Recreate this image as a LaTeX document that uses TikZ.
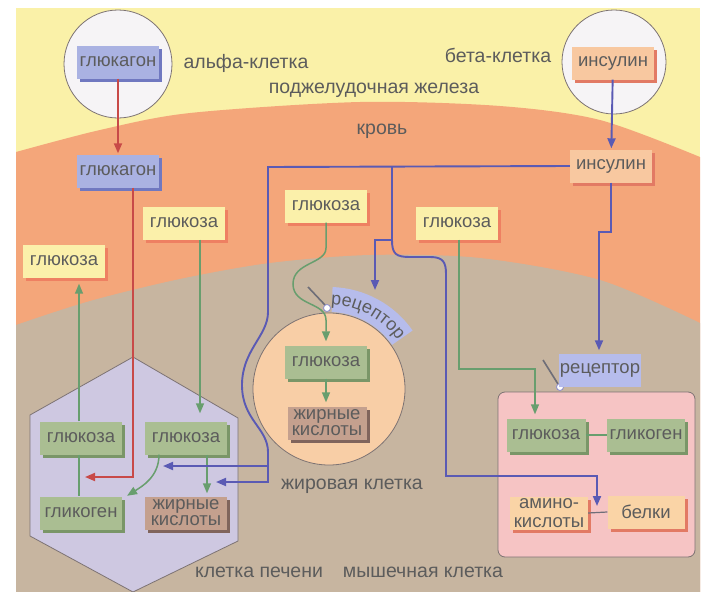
\documentclass[tikz,border=0pt]{standalone}
\usepackage{fontspec}
\setmainfont{Liberation Sans}
\usetikzlibrary{arrows.meta,shadows,decorations.text,calc}

\definecolor{bgY}{RGB}{250,241,168}
\definecolor{bgO}{RGB}{244,166,122}
\definecolor{bgB}{RGB}{199,181,160}
\definecolor{cellW}{RGB}{246,244,246}
\definecolor{hexF}{RGB}{206,200,225}
\definecolor{fatF}{RGB}{248,206,166}
\definecolor{musF}{RGB}{246,196,196}
\definecolor{cellL}{RGB}{125,115,115}
\definecolor{txt}{RGB}{92,92,92}
\definecolor{boxY}{RGB}{251,240,170}
\definecolor{shY}{RGB}{238,128,98}
\definecolor{boxG}{RGB}{170,190,146}
\definecolor{shG}{RGB}{122,150,104}
\definecolor{boxB}{RGB}{170,178,226}
\definecolor{shB}{RGB}{112,120,192}
\definecolor{boxI}{RGB}{248,200,160}
\definecolor{shI}{RGB}{226,122,100}
\definecolor{boxF}{RGB}{196,160,142}
\definecolor{shF}{RGB}{128,100,92}
\definecolor{boxA}{RGB}{250,212,166}
\definecolor{recF}{RGB}{182,188,236}
\definecolor{lnR}{RGB}{200,74,72}
\definecolor{lnG}{RGB}{104,158,110}
\definecolor{lnB}{RGB}{90,90,180}
\definecolor{lnD}{RGB}{110,110,120}

\newcommand\lbl{\fontsize{19.5}{19.5}\selectfont}
\newcommand\bxf{\fontsize{18.5}{18.5}\selectfont}
\newcommand\twf{\fontsize{18.5}{16}\selectfont}
\newcommand\rcf{\fontsize{18}{18}\selectfont}

\tikzset{
  box/.style={minimum width=82pt, minimum height=33pt, inner sep=1pt,
    text=txt, font=\bxf, align=center},
  ybox/.style={box, fill=boxY, drop shadow={shadow xshift=3pt, shadow yshift=-3pt, fill=shY, opacity=1}},
  gbox/.style={box, fill=boxG, drop shadow={shadow xshift=3pt, shadow yshift=-3pt, fill=shG, opacity=1}},
  bbox/.style={box, fill=boxB, drop shadow={shadow xshift=3pt, shadow yshift=-3pt, fill=shB, opacity=1}},
  ibox/.style={box, fill=boxI, drop shadow={shadow xshift=3pt, shadow yshift=-3pt, fill=shI, opacity=1}},
  fbox/.style={box, font=\twf, fill=boxF, drop shadow={shadow xshift=3pt, shadow yshift=-3pt, fill=shF, opacity=1}},
  abox/.style={box, fill=boxA, drop shadow={shadow xshift=3pt, shadow yshift=-3pt, fill=shI, opacity=1}},
  rbox/.style={box, fill=recF},
  lab/.style={text=txt, font=\lbl, inner sep=0pt},
  cellline/.style={draw=cellL, line width=0.8pt},
  tip/.style={-{Triangle[length=10pt,width=8pt]}},
  redln/.style={draw=lnR, line width=1.8pt},
  grnln/.style={draw=lnG, line width=1.5pt},
  bluln/.style={draw=lnB, line width=1.9pt},
  stick/.style={draw=lnD, line width=1.6pt},
  ball/.style={draw=lnB!70, fill=white, line width=0.8pt}
}

\begin{document}
\begin{tikzpicture}[x=1pt, y=-1pt]
\useasboundingbox (0,0) rectangle (705,592);
\fill[white] (0,0) rectangle (705,592);

% pancreas, blood and tissue zones
\fill[bgY] (16,8) rectangle (700,592);
\fill[bgO] plot[smooth] coordinates {(16,152) (100,130) (190,113) (360,102) (500,106) (600,120) (700,157)}
  -- (700,592) -- (16,592) -- cycle;
\fill[bgB] plot[smooth] coordinates {(16,325) (90,301) (180,279) (270,263) (370,255) (480,258) (600,280) (700,323)}
  -- (700,592) -- (16,592) -- cycle;

% cells
\draw[cellline, fill=cellW] (118,64) circle[radius=54];
\draw[cellline, fill=cellW] (614,62) circle[radius=52];
\draw[cellline, fill=hexF] (133,357) -- (238,418) -- (238,541) -- (133,592) -- (30,536) -- (30,415) -- cycle;
\coordinate (fc) at (329,389);
\draw[cellline, fill=fatF] (fc) circle[radius=76];
\draw[cellline, fill=musF, rounded corners=7pt] (498,392) rectangle (695,557);

% curved receptor on the fat cell
\fill[recF] ($(fc)+(-88:77)$) arc[start angle=-88, end angle=-35, radius=77]
  -- ($(fc)+(-35:102)$) arc[start angle=-35, end angle=-88, radius=102] -- cycle;
\path[decorate, decoration={text along path, text align=center,
  text={|\rcf\color{txt}|рецептор}}]
  ($(fc)+(-94:84)$) arc[start angle=-94, end angle=-30, radius=84];
\draw[stick] (308,287) -- (325,305);
\draw[ball] (327,308) circle[radius=3.5];

% receptor on the muscle cell
\draw[stick] (543,360) -- (558,384);
\draw[ball] (560,387) circle[radius=3.5];

% boxes
\node[bbox] (gcg1) at (118,62) {глюкагон};
\node[bbox] (gcg2) at (118,171) {глюкагон};
\node[ibox] (ins1) at (613,63) {инсулин};
\node[ibox] (ins2) at (611,166) {инсулин};
\node[ybox] (gb1) at (64,261) {глюкоза};
\node[ybox] (gb2) at (184,223) {глюкоза};
\node[ybox] (gb3) at (326,206) {глюкоза};
\node[ybox] (gb4) at (457,223) {глюкоза};
\node[gbox] (lg1) at (81,438) {глюкоза};
\node[gbox] (lg2) at (186,438) {глюкоза};
\node[gbox] (lgn) at (81,513) {гликоген};
\node[fbox] (lfa) at (186,513) {жирные\\кислоты};
\node[gbox] (fg) at (326,362) {глюкоза};
\node[fbox, minimum width=79pt] (ffa) at (327,423) {жирные\\кислоты};
\node[rbox, minimum width=80pt] (mr) at (600,370) {рецептор};
\node[gbox, minimum width=79pt] (mg) at (546,435) {глюкоза};
\node[gbox, minimum width=78pt] (mgn) at (646,435) {гликоген};
\node[abox, minimum width=78pt] (ma) at (549,513) {амино-\\кислоты};
\node[abox, minimum width=77pt] (mb) at (646,512) {белки};

% labels
\node[lab] (alpha) at (246,63) {альфа-клетка};
\node[lab] (beta) at (498,55) {бета-клетка};
\node[lab] (panc) at (374,90) {поджелудочная железа};
\node[lab] (blood) at (382,131) {кровь};
\node[lab] (fatl) at (352,486) {жировая клетка};
\node[lab] (livl) at (259,572) {клетка печени};
\node[lab] (musl) at (423,572) {мышечная клетка};

% glucagon pathway
\draw[redln, tip, shorten >=1pt] (gcg1) -- (gcg2);
\coordinate (rc) at (133,477);
\coordinate (rt) at (85,477);
\draw[redln, tip] ([xshift=15pt]gcg2.south) -- (rc) -- (rt);

% glucose in the liver
\draw[grnln, tip, shorten >=6pt] ([xshift=-2pt]lg1.north) -- ([xshift=-2pt]lg1.north |- gb1.south);
\draw[grnln] ([xshift=-2pt]lg1.south) -- ([xshift=-2pt]lgn.north);
\draw[grnln, tip, shorten >=8pt] ([xshift=16pt]gb2.south) -- ([xshift=16pt]gb2.south |- lg2.north);
\draw[grnln, tip, shorten >=1pt] ([xshift=-27pt]lg2.south) .. controls +(0,22) and +(16,-10) .. ([xshift=4pt]lgn.north east);
\draw[grnln, tip, shorten >=3pt] ([xshift=21pt]lg2.south) -- ([xshift=21pt]lg2.south |- lfa.north);

% glucose into the fat cell
\draw[grnln, tip, shorten >=4pt] (gb3.south) -- (326,248)
  .. controls (326,264) and (293,262) .. (293,284)
  .. controls (293,306) and (326,302) .. (326,320) -- (fg.north);
\draw[grnln, tip, shorten >=4pt] (fg.south) -- (ffa.north -| fg.south);

% glucose into the muscle cell
\draw[grnln, tip, shorten >=4pt] ([xshift=2pt]gb4.south) -- (459,369) -- (535,369) -- (mg.north -| 535,0);
\draw[grnln] (mg.east) -- (mgn.west);
\draw[draw=lnD, line width=1.2pt] (ma.east) -- (mb.west);

% insulin pathways
\draw[bluln, tip, shorten >=1pt] (ins1) -- (ins2);
\coordinate (bl1) at (216,482);
\coordinate (bl2) at (163,466);
\coordinate (bj) at (392,167);
\coordinate (bk) at (392,240);
\coordinate (brc) at (375,290);
\coordinate (bam) at (597,506);
\draw[bluln, tip] (ins2.west) -- (268,167) -- (268,312)
  .. controls (268,336) and (242,350) .. (242,385)
  .. controls (242,420) and (268,428) .. (268,452) -- (268,482) -- (bl1);
\draw[bluln, tip] (268,466) -- (bl2);
\draw[bluln] (bj) -- (bk);
\draw[bluln, tip] (bk) -- (375,240) -- (brc);
\draw[bluln, tip] (bk) .. controls (392,254) and (396,257) .. (410,257) -- (430,257)
  .. controls (443,257) and (446,262) .. (446,274) -- (446,476) -- (597,476) -- (bam);
\draw[bluln, tip, shorten >=3pt] (ins2.south) -- (611,232) -- (599,232) -- (mr.north -| 599,0);
\end{tikzpicture}
\end{document}
